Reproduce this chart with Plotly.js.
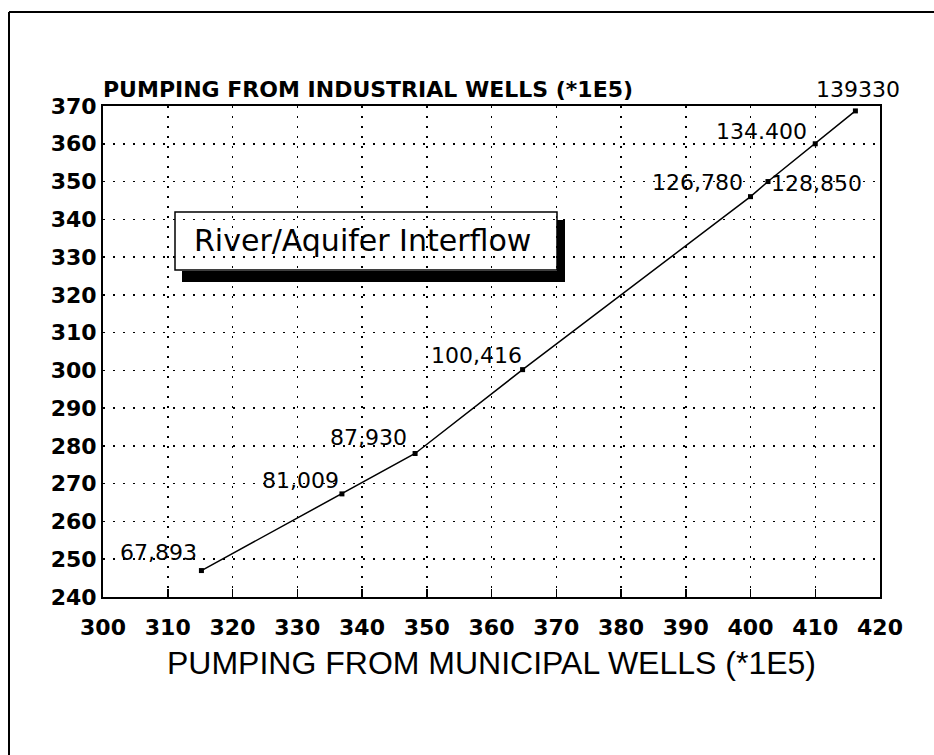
<!DOCTYPE html>
<html>
<head>
<meta charset="utf-8">
<script src="https://cdn.plot.ly/plotly-3.0.1.min.js"></script>
<style>
  html, body { margin: 0; padding: 0; background: #ffffff; }
  #chart { width: 934px; height: 755px; }
</style>
</head>
<body>
<div id="chart"></div>
<script>
// Municipal pumping (x, *1E5), industrial pumping (y, *1E5), interflow labels
const municipal  = [315.2, 336.9, 348.2, 364.8, 400.0, 402.7, 410.0, 416.2];
const industrial = [247.0, 267.3, 278.0, 300.2, 346.0, 350.0, 360.0, 368.7];
const interflowLabels = ["67,893", "81,009", "87,930", "100,416", "126,780", "128,850", "134.400", "139330"];
// pixel offsets of each label from its point (label placement only)
const labelShiftX = [-43, -41, -47, -46, -53, 49, -54, 3];
const labelShiftY = [18, 13, 16, 14, 14, -2, 12, 21];

const xTitle = "PUMPING FROM MUNICIPAL WELLS (*1E5)";
const yTitle = "PUMPING FROM INDUSTRIAL WELLS (*1E5)";
const boxTitle = "River/Aquifer Interflow";

const tickFont = { family: "DejaVu Sans", size: 22, color: "#000", weight: "bold" };

const trace = {
  x: municipal,
  y: industrial,
  type: "scatter",
  mode: "lines+markers",
  line: { color: "#000", width: 1.5 },
  marker: { symbol: "square", size: 5, color: "#000" },
  hoverinfo: "skip",
  showlegend: false
};

const annotations = interflowLabels.map((t, i) => ({
  x: municipal[i], y: industrial[i], xref: "x", yref: "y",
  xanchor: "center", yanchor: "middle",
  text: t, showarrow: false,
  xshift: labelShiftX[i], yshift: labelShiftY[i],
  font: { family: "DejaVu Sans", size: 22, color: "#000" }
}));

const P = (px) => (px - 103) / 777;      // pixel x -> paper
const Q = (py) => (597 - py) / 491;      // pixel y -> paper

annotations.push({
  xref: "paper", yref: "paper", x: P(362), y: Q(240),
  xanchor: "center", yanchor: "middle",
  text: boxTitle, showarrow: false,
  font: { family: "DejaVu Sans", size: 30, color: "#000" }
});

const shapes = [
  // legend-like box with drop shadow
  { type: "rect", xref: "paper", yref: "paper", x0: P(175), x1: P(557), y0: Q(270), y1: Q(212),
    line: { color: "#000", width: 1.5 }, fillcolor: "rgba(0,0,0,0)", layer: "above" },
  { type: "rect", xref: "paper", yref: "paper", x0: P(557), x1: P(565), y0: Q(282), y1: Q(220),
    line: { width: 0 }, fillcolor: "#000", layer: "above" },
  { type: "rect", xref: "paper", yref: "paper", x0: P(182), x1: P(565), y0: Q(282), y1: Q(271),
    line: { width: 0 }, fillcolor: "#000", layer: "above" },
  // outer page frame (top and left edges)
  { type: "line", xref: "paper", yref: "paper", x0: P(9), x1: P(934), y0: Q(12), y1: Q(12),
    line: { color: "#000", width: 2 } },
  { type: "line", xref: "paper", yref: "paper", x0: P(9), x1: P(9), y0: Q(12), y1: Q(760),
    line: { color: "#000", width: 2 } }
];

const layout = {
  width: 934, height: 755,
  margin: { l: 103, r: 54, t: 106, b: 158 },
  paper_bgcolor: "#fff", plot_bgcolor: "#fff",
  showlegend: false,
  title: {
    text: yTitle,
    xref: "paper", x: 0, xanchor: "left",
    yref: "paper", y: 1, yanchor: "bottom",
    pad: { b: 9 },
    font: { family: "DejaVu Sans", size: 22, color: "#000", weight: "bold" }
  },
  xaxis: {
    range: [300, 420], tick0: 300, dtick: 10, tickmode: "linear",
    showline: true, mirror: true, linecolor: "#000", linewidth: 2,
    ticks: "inside", ticklen: 8, tickcolor: "#000", tickwidth: 1.5,
    ticklabelstandoff: 10,
    showgrid: true, gridcolor: "#000", gridwidth: 1.5, griddash: "2px,8px",
    zeroline: false, tickfont: tickFont,
    title: { text: xTitle, standoff: 12,
             font: { family: "Liberation Sans", size: 32, color: "#000" } }
  },
  yaxis: {
    range: [240, 370], tick0: 240, dtick: 10, tickmode: "linear",
    showline: true, mirror: true, linecolor: "#000", linewidth: 2,
    ticks: "", showgrid: true, gridcolor: "#000", gridwidth: 1.5, griddash: "2px,8px",
    zeroline: false, tickfont: tickFont
  },
  annotations: annotations,
  shapes: shapes
};

Plotly.newPlot("chart", [trace], layout, { staticPlot: true, displayModeBar: false });
</script>
</body>
</html>
